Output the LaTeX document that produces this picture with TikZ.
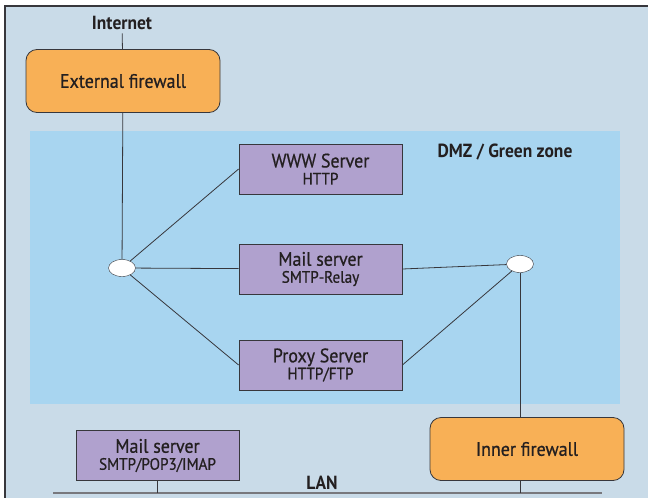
\documentclass[tikz,border=0pt]{standalone}
\usepackage{fontspec}
\setmainfont{PT Sans}[FakeStretch=0.92]
\newfontfamily\netfont{PT Sans}[FakeStretch=0.92, FakeBold=0.7]
\usetikzlibrary{positioning, shapes.geometric}
\definecolor{nwframe}{RGB}{201,219,232}
\definecolor{nwdmz}{RGB}{168,213,240}
\definecolor{nworange}{RGB}{248,176,86}
\definecolor{nwpurple}{RGB}{176,161,206}
\definecolor{nwline}{RGB}{55,55,60}
\definecolor{nwlan}{RGB}{120,120,125}
\definecolor{nwtext}{RGB}{35,31,32}
\newcommand{\nwsub}[1]{{\fontsize{16.5}{18}\selectfont #1}}

\begin{document}
\begin{tikzpicture}[
  x=1pt, y=-1pt,
  every node/.style={font=\netfont\fontsize{19.5}{21}\selectfont, text=nwtext},
  wall/.style={draw=nwline, thick, rounded corners=11pt, fill=nworange,
    minimum width=194pt, minimum height=63pt, inner sep=0pt},
  srv/.style={draw=nwline, thick, fill=nwpurple, align=center,
    minimum width=163pt, minimum height=50pt, inner sep=0pt},
  hub/.style={draw=nwline, fill=white, ellipse, inner sep=0pt,
    minimum width=27pt, minimum height=17pt},
  lab/.style={font=\rmfamily\bfseries\fontsize{19}{21}\selectfont},
  wire/.style={nwline, thick}
]
\useasboundingbox (0,0) rectangle (648,498);
% frame and zone
\fill[nwframe] (5,6) rectangle (648,498);
\draw[nwline, line width=1.2pt] (5,498) -- (5,6) -- (648,6);
\fill[nwdmz] (30,131) rectangle (620,404);

\node[lab] (internet) at (122,23) {Internet};
\node[wall] (ext) at (123,81) {External firewall};
\node[lab] (dmz) at (505,152) {DMZ / Green zone};

% servers in the zone
\node[srv] (www) at (320.5,169) {WWW Server\\[-4pt]\nwsub{HTTP}};
\node[srv] (relay) at (320.5,269) {Mail server\\[-4pt]\nwsub{SMTP-Relay}};
\node[srv] (proxy) at (320.5,365) {Proxy Server\\[-4pt]\nwsub{HTTP/FTP}};
\node[hub] (lhub) at (122,268) {};
\node[hub] (rhub) at (520,264) {};

% inside
\node[wall] (inner) at (527,449) {Inner firewall};
\node[srv] (lanmail) at (157.5,455.5) {Mail server\\[-4pt]\nwsub{SMTP/POP3/IMAP}};
\node[lab] (lan) at (322,483) {LAN};
\coordinate (lanL) at (53,493);
\coordinate (lanR) at (602,493);

\draw[wire] (internet) -- (ext);
\draw[wire] (ext) -- (lhub);
\draw[wire] (lhub) -- (www.west);
\draw[wire] (lhub) -- (relay);
\draw[wire] (lhub) -- (proxy.west);
\draw[wire] (relay.east) -- (rhub);
\draw[wire] (proxy.east) -- (rhub);
\draw[wire] (rhub) -- (rhub |- inner.north);
\draw[nwlan, line width=1.4pt] (lanL) -- (lanR);
\draw[wire] (lanmail) -- (lanmail |- lanL);
\draw[wire] (rhub |- inner.south) -- (rhub |- lanL);
\end{tikzpicture}
\end{document}
